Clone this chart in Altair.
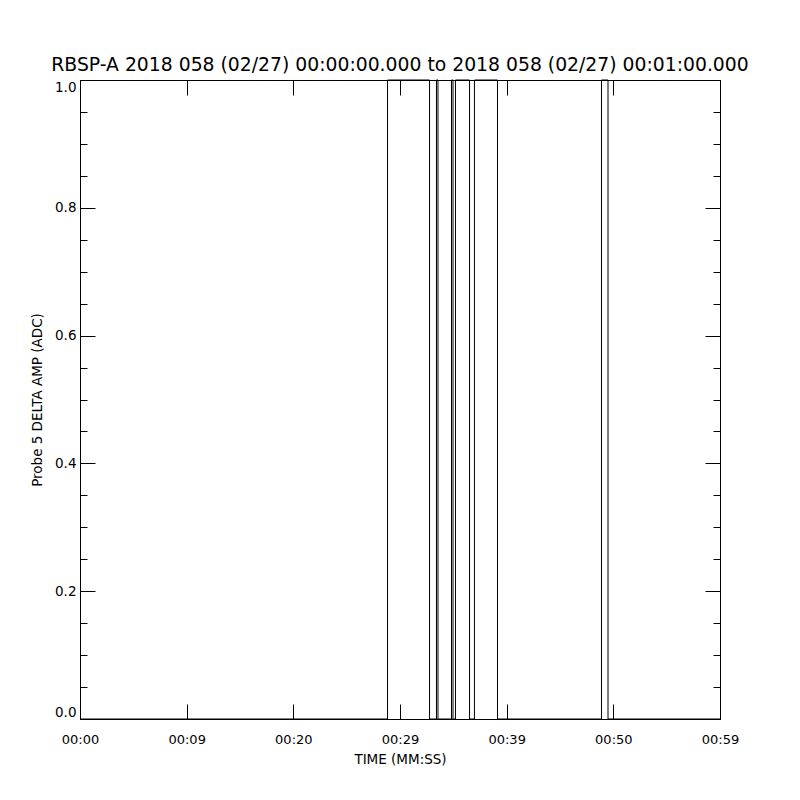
import altair as alt
import pandas as pd

# Signal samples (seconds since 00:00:00, ADC value) – step signal
times = [0.0, 28.83, 32.77, 33.42, 33.56, 34.83, 34.97, 35.20, 36.52, 36.98, 39.14, 48.89, 49.50, 60.0]
values = [0, 1, 0, 1, 0, 1, 0, 1, 0, 1, 0, 1, 0, 0]

x_tick_values = [0, 10, 20, 30, 40, 50, 60]
x_tick_labels = ["00:00", "00:09", "00:20", "00:29", "00:39", "00:50", "00:59"]
y_major = [0.0, 0.2, 0.4, 0.6, 0.8, 1.0]
y_minor = [0.0, 0.05, 0.1, 0.15, 0.2, 0.25, 0.3, 0.35, 0.4, 0.45, 0.5,
           0.55, 0.6, 0.65, 0.7, 0.75, 0.8, 0.85, 0.9, 0.95, 1.0]

title_text = "RBSP-A 2018 058 (02/27) 00:00:00.000 to 2018 058 (02/27) 00:01:00.000"

df = pd.DataFrame({"t": times, "v": values})

W, H = 640, 639
FONT = "DejaVu Sans"

xs = alt.Scale(domain=[0, 60], nice=False, zero=False)
ys = alt.Scale(domain=[0, 1], nice=False, zero=False)

label_expr = "[" + ",".join("'%s'" % s for s in x_tick_labels) + "][round(datum.value/10)]"

base = alt.Chart(df)

main = base.mark_line(interpolate="step-after", color="black", strokeWidth=1).encode(
    x=alt.X("t:Q", scale=xs, axis=alt.Axis(
        orient="bottom", values=x_tick_values, labelExpr=label_expr,
        ticks=False, tickSize=0, domain=False, grid=False, labelFlush=False,
        title="TIME (MM:SS)", labelPadding=14, titlePadding=6,
        labelFontSize=13, titleFontSize=13.5, labelFont=FONT, titleFont=FONT,
        labelColor="black", titleColor="black", titleFontWeight="normal")),
    y=alt.Y("v:Q", scale=ys, axis=alt.Axis(
        orient="left", values=y_major, format=".1f",
        ticks=False, tickSize=0, domain=False, grid=False, labelFlush=True,
        title="Probe 5 DELTA AMP (ADC)", labelPadding=4, titlePadding=10,
        labelFontSize=13.5, titleFontSize=13.5, labelFont=FONT, titleFont=FONT,
        labelColor="black", titleColor="black", titleFontWeight="normal")),
)

def tick_layer(x_axis, y_axis):
    return base.mark_line(strokeOpacity=0).encode(
        x=alt.X("t:Q", scale=xs, axis=x_axis),
        y=alt.Y("v:Q", scale=ys, axis=y_axis),
    )

def xt(orient):
    return alt.Axis(orient=orient, offset=-H, values=x_tick_values, tickSize=15,
                    labels=False, domain=False, grid=False, title=None,
                    tickColor="black", tickWidth=1)

def yt(orient, vals, size):
    return alt.Axis(orient=orient, offset=-W, values=vals, tickSize=size,
                    labels=False, domain=False, grid=False, title=None,
                    tickColor="black", tickWidth=1)

l2 = tick_layer(xt("top"), yt("right", y_major, 15))
l3 = tick_layer(xt("bottom"), yt("right", y_minor, 7))
l4 = tick_layer(None, yt("left", y_major, 15))
l5 = tick_layer(None, yt("left", y_minor, 7))

chart = alt.layer(main, l2, l3, l4, l5).resolve_axis(
    x="independent", y="independent"
).properties(
    width=W, height=H,
    title=alt.TitleParams(text=title_text, fontSize=18.8, font=FONT,
                          fontWeight="normal", anchor="middle", frame="group",
                          baseline="alphabetic", offset=8, dy=20, color="black"),
    autosize=alt.AutoSizeParams(type="none"),
    padding={"left": 72, "top": 72, "right": 72, "bottom": 72},
    background="white",
).configure_view(
    stroke="black", strokeWidth=1
)

chart.save("out.html", embed_options={"renderer": "svg", "actions": False})
